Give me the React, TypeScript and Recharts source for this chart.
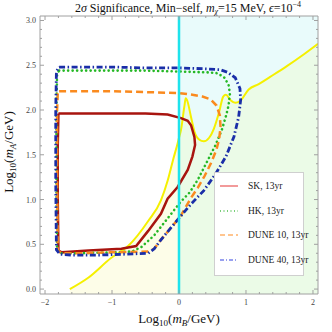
import React from 'react'
import { ComposedChart, Line, Area, XAxis, YAxis, ReferenceLine } from 'recharts'

// yellow boundary curve (x = log10 mB, y = log10 mA)
const bndX = [-1.63, -1.35, -1.01, -0.76, -0.46, -0.27, -0.17, -0.09, -0.02, 0, 0.03, 0.08, 0.1, 0.12, 0.18, 0.23, 0.3, 0.37, 0.45, 0.52, 0.6, 0.66, 0.7, 0.77, 0.84, 0.91, 1.04, 1.19, 1.36, 1.61, 1.86, 2.075]
const bndY = [0, 0.13, 0.35, 0.48, 0.76, 0.99, 1.21, 1.44, 1.63, 1.69, 1.78, 2.04, 2.13, 2.11, 1.92, 1.76, 1.67, 1.65, 1.69, 1.79, 1.98, 2.15, 2.17, 2.11, 2.08, 2.1, 2.23, 2.29, 2.37, 2.49, 2.62, 2.74]

// SK, 13yr
const skX = [-1.8, -1.5, -1.0, -0.5, -0.17, 0.03, 0.13, 0.18, 0.23, 0.24, 0.2, 0.13, -0.02, -0.17, -0.27, -0.46, -0.64, -0.86, -1.35, -1.75, -1.8, -1.81, -1.81, -1.8]
const skY = [1.96, 1.96, 1.96, 1.96, 1.95, 1.91, 1.88, 1.83, 1.7, 1.61, 1.48, 1.33, 1.14, 1.01, 0.84, 0.65, 0.48, 0.45, 0.43, 0.41, 0.43, 1.0, 1.6, 1.96]

// HK, 13yr
const hkX = [-1.79, -1.0, -0.5, 0.0, 0.45, 0.58, 0.68, 0.74, 0.76, 0.74, 0.7, 0.64, 0.54, 0.41, 0.28, 0.16, 0.02, -0.17, -0.37, -0.56, -0.7, -1.0, -1.5, -1.76, -1.82, -1.83, -1.83, -1.82, -1.79]
const hkY = [2.44, 2.44, 2.44, 2.43, 2.42, 2.41, 2.36, 2.28, 2.18, 2.05, 1.93, 1.78, 1.6, 1.41, 1.22, 1.08, 0.97, 0.79, 0.6, 0.47, 0.42, 0.41, 0.4, 0.4, 0.44, 1.2, 2.0, 2.4, 2.44]

// DUNE 10, 13yr
const d10X = [-1.79, -1.0, -0.5, 0.0, 0.2, 0.35, 0.47, 0.56, 0.61, 0.62, 0.6, 0.56, 0.48, 0.38, 0.28, 0.18, 0.02, -0.17, -0.27, -0.37, -0.46, -1.0, -1.5, -1.76, -1.81, -1.82, -1.82, -1.81, -1.79]
const d10Y = [2.21, 2.21, 2.2, 2.19, 2.17, 2.15, 2.12, 2.05, 1.94, 1.81, 1.68, 1.56, 1.41, 1.26, 1.13, 1.02, 0.81, 0.64, 0.55, 0.45, 0.42, 0.41, 0.4, 0.4, 0.43, 1.2, 2.0, 2.18, 2.21]

// DUNE 40, 13yr
const d40X = [-1.79, -1.0, -0.5, 0.0, 0.4, 0.62, 0.73, 0.84, 0.91, 0.92, 0.89, 0.82, 0.7, 0.55, 0.37, 0.18, 0.02, -0.17, -0.27, -0.37, -0.46, -0.8, -1.2, -1.6, -1.78, -1.83, -1.84, -1.84, -1.83, -1.79]
const d40Y = [2.48, 2.48, 2.47, 2.47, 2.46, 2.45, 2.42, 2.36, 2.24, 2.11, 1.92, 1.7, 1.48, 1.29, 1.1, 0.95, 0.81, 0.64, 0.55, 0.45, 0.4, 0.39, 0.38, 0.38, 0.39, 0.44, 1.2, 2.0, 2.43, 2.48]

const xTicks = [-2, -1.8, -1.6, -1.4, -1.2, -1, -0.8, -0.6, -0.4, -0.2, 0, 0.2, 0.4, 0.6, 0.8, 1, 1.2, 1.4, 1.6, 1.8, 2]
const xLabels = [-2, -1, 0, 1, 2]
const yTicks = [0, 0.1, 0.2, 0.3, 0.4, 0.5, 0.6, 0.7, 0.8, 0.9, 1, 1.1, 1.2, 1.3, 1.4, 1.5, 1.6, 1.7, 1.8, 1.9, 2, 2.1, 2.2, 2.3, 2.4, 2.5, 2.6, 2.7, 2.8, 2.9, 3]
const yLabels = [0, 0.5, 1, 1.5, 2, 2.5, 3]

const xDomain = [-2.075, 2.075]
const yDomain = [-0.055, 3.05]

const serif = '"Liberation Serif", "DejaVu Serif", serif'
const frame = '#a0a0a0'

const zip = (xs: number[], ys: number[]) => xs.map((x, i) => ({ x, y: ys[i] }))

const bndData = bndX.map((x, i) => ({
  x,
  y: bndY[i],
  left: x <= 0 ? bndY[i] : null,
  right: x >= 0 ? bndY[i] : null,
}))

const fmtX = (v: number) => (v < 0 ? '\u2212' + Math.abs(v) : String(v))

function BottomTick({ x, y, payload }: any) {
  const v = payload.value
  const major = xLabels.includes(v)
  return (
    <g>
      <line x1={x} x2={x} y1={y} y2={y - (major ? 4 : 2)} stroke={frame} />
      {major && (
        <text x={x} y={y + 11} textAnchor="middle" fontSize={8} fill="#444" fontFamily={serif}>{fmtX(v)}</text>
      )}
    </g>
  )
}

function TopTick({ x, y, payload }: any) {
  const major = xLabels.includes(payload.value)
  return <line x1={x} x2={x} y1={y} y2={y + (major ? 4 : 2)} stroke={frame} />
}

function LeftTick({ x, y, payload }: any) {
  const v = payload.value
  const major = yLabels.includes(v)
  return (
    <g>
      <line x1={x} x2={x + (major ? 4 : 2)} y1={y} y2={y} stroke={frame} />
      {major && (
        <text x={x - 4} y={y + 3} textAnchor="end" fontSize={8} fill="#444" fontFamily={serif}>{v.toFixed(1)}</text>
      )}
    </g>
  )
}

function RightTick({ x, y, payload }: any) {
  const major = yLabels.includes(payload.value)
  return <line x1={x} x2={x - (major ? 4 : 2)} y1={y} y2={y} stroke={frame} />
}

const legendItems = [
  { name: 'SK, 13yr', color: '#f29a9a', dash: undefined, width: 2 },
  { name: 'HK, 13yr', color: '#4cbf4c', dash: '1 2.5', width: 1.3 },
  { name: 'DUNE 10, 13yr', color: '#ffc58f', dash: '5 3', width: 2 },
  { name: 'DUNE 40, 13yr', color: '#3343e0', dash: '4 2 1 2', width: 1.2 },
]

export default function App() {
  return (
    <div style={{ position: 'absolute', left: 0, top: 0, width: 332, height: 332, background: '#fff', fontFamily: serif }}>
      <ComposedChart width={332} height={332} data={bndData} margin={{ top: 15, right: 13, bottom: 37, left: 39 }}>
        <XAxis dataKey="x" type="number" domain={xDomain} allowDataOverflow ticks={xTicks} interval={0}
          height={1} tickSize={0} tickMargin={0} tick={<BottomTick />} stroke={frame} />
        <XAxis xAxisId="t" orientation="top" dataKey="x" type="number" domain={xDomain} allowDataOverflow ticks={xTicks} interval={0}
          height={1} tickSize={0} tickMargin={0} tick={<TopTick />} stroke={frame} />
        <YAxis type="number" domain={yDomain} allowDataOverflow ticks={yTicks} interval={0}
          width={1} tickSize={0} tickMargin={0} tick={<LeftTick />} stroke={frame} />
        <YAxis yAxisId="r" orientation="right" type="number" domain={yDomain} allowDataOverflow ticks={yTicks} interval={0}
          width={1} tickSize={0} tickMargin={0} tick={<RightTick />} stroke={frame} />

        <Area dataKey="right" type="monotone" baseValue={3.05} fill="#e9fbfb" fillOpacity={1} stroke="none" isAnimationActive={false} />
        <Area dataKey="right" type="monotone" baseValue={-0.055} fill="#ebfbe7" fillOpacity={1} stroke="none" isAnimationActive={false} />
        <Area dataKey="left" type="monotone" baseValue={-0.055} fill="#fdfde8" fillOpacity={1} stroke="none" isAnimationActive={false} />

        <Line dataKey="y" type="monotone" stroke="#f5f000" strokeWidth={2} dot={false} isAnimationActive={false} />

        <Line data={zip(skX, skY)} dataKey="y" type="linear" stroke="#a8140f" strokeWidth={2.5} dot={false} isAnimationActive={false} />
        <Line data={zip(hkX, hkY)} dataKey="y" type="linear" stroke="#25b825" strokeWidth={2.6} strokeDasharray="0.1 4.4" strokeLinecap="round" dot={false} isAnimationActive={false} />
        <Line data={zip(d10X, d10Y)} dataKey="y" type="linear" stroke="#fa8a1e" strokeWidth={2.5} strokeDasharray="7 4" dot={false} isAnimationActive={false} />
        <Line data={zip(d40X, d40Y)} dataKey="y" type="linear" stroke="#1a2ea8" strokeWidth={2.8} strokeDasharray="6 2.5 1.5 2.5" dot={false} isAnimationActive={false} />

        <ReferenceLine x={0} stroke="#1fe3ec" strokeWidth={2.5} />
      </ComposedChart>

      <div style={{ position: 'absolute', left: 44, top: 1, width: 288, textAlign: 'center', fontSize: 12, lineHeight: '14px', color: '#111', whiteSpace: 'nowrap' }}>
        2<i>σ</i> Significance, Min−self, <i>m</i><sub style={{ fontSize: 8, verticalAlign: '-2px', lineHeight: 0 }}><i>χ</i></sub>=15 MeV, <i>ϵ</i>=10<sup style={{ fontSize: 8, verticalAlign: '5px', lineHeight: 0 }}>−4</sup>
      </div>

      <div style={{ position: 'absolute', left: 179, top: 318, transform: 'translate(-50%, -50%)', fontSize: 13, lineHeight: '15px', color: '#111', whiteSpace: 'nowrap' }}>
        Log<sub style={{ fontSize: 9, verticalAlign: '-3px', lineHeight: 0 }}>10</sub>(<i>m</i><sub style={{ fontSize: 9, verticalAlign: '-3px', lineHeight: 0 }}><i>B</i></sub>/GeV)
      </div>

      <div style={{ position: 'absolute', left: 8, top: 152, transform: 'translate(-50%, -50%) rotate(-90deg)', fontSize: 13, lineHeight: '15px', color: '#111', whiteSpace: 'nowrap' }}>
        Log<sub style={{ fontSize: 9, verticalAlign: '-3px', lineHeight: 0 }}>10</sub>(<i>m</i><sub style={{ fontSize: 9, verticalAlign: '-3px', lineHeight: 0 }}><i>A</i></sub>/GeV)
      </div>

      <div style={{ position: 'absolute', left: 214, top: 172, width: 90, height: 104, background: '#fff', border: '1px solid #cfcfcf', boxSizing: 'border-box' }}>
        {legendItems.map((it, i) => (
          <div key={it.name} style={{ position: 'absolute', left: 4, top: 6 + i * 24.5, height: 14, display: 'flex', alignItems: 'center', whiteSpace: 'nowrap' }}>
            <svg width={20} height={6} style={{ marginRight: 9 }}>
              <line x1={1} x2={19} y1={3} y2={3} stroke={it.color} strokeWidth={it.width} strokeDasharray={it.dash} />
            </svg>
            <span style={{ fontSize: 9.5, color: '#222' }}>{it.name}</span>
          </div>
        ))}
      </div>
    </div>
  )
}
